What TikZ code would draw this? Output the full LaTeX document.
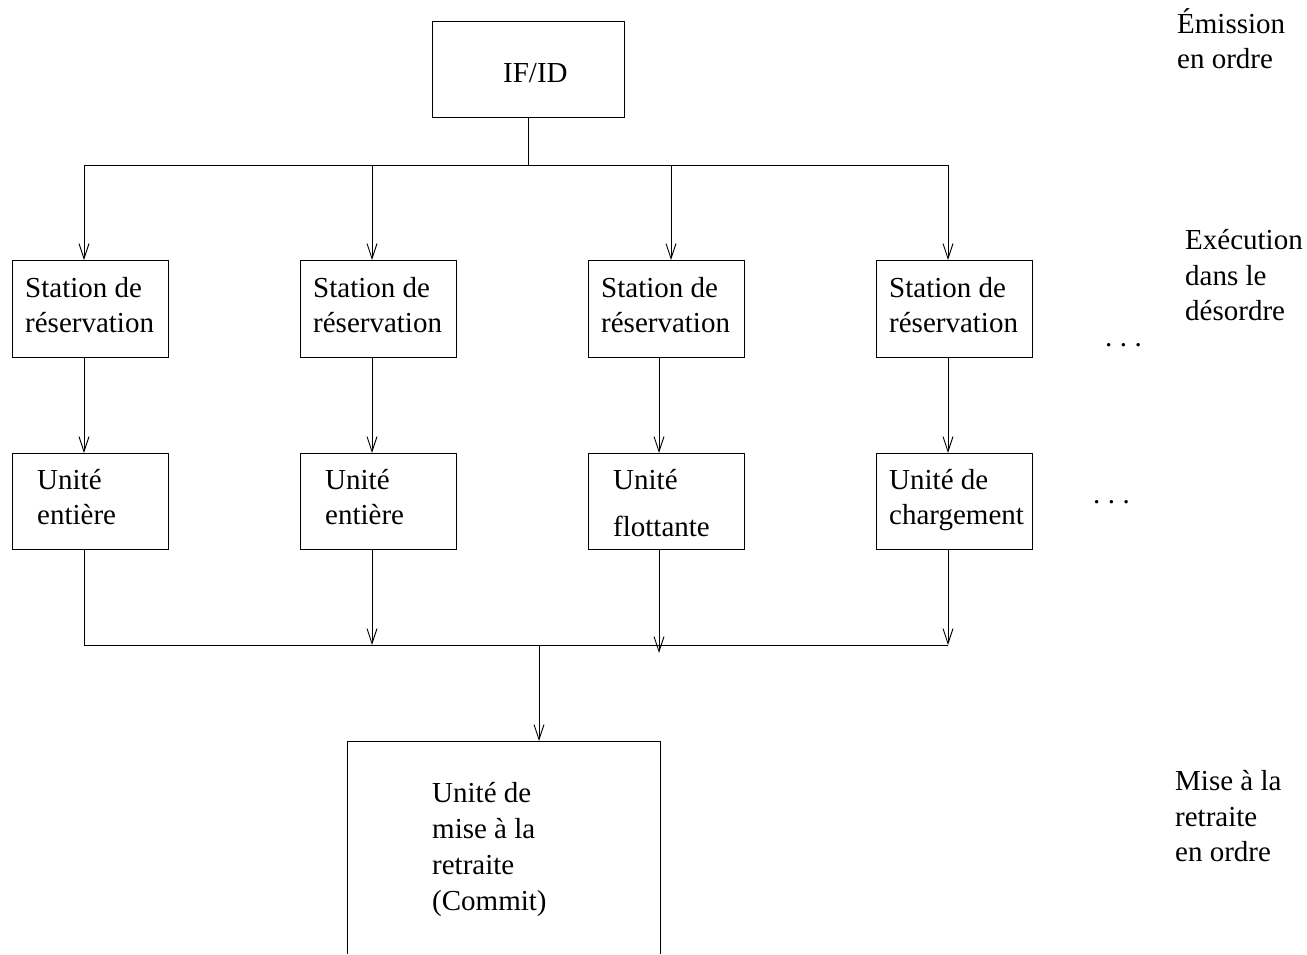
\documentclass[tikz,border=0pt]{standalone}
\usepackage{fontspec}
\setmainfont{Liberation Serif}
\usetikzlibrary{arrows.meta,calc}
\newcommand{\spaceddots}{.\kern7.5pt.\kern7.5pt.}
\begin{document}
\begin{tikzpicture}[x=1pt,y=-1pt,
  box/.style={draw, line width=0.9pt, inner sep=0pt, anchor=north west},
  txt/.style={anchor=base west, inner sep=0pt, font=\fontsize{29}{35}\selectfont},
  wire/.style={line width=0.9pt},
  flow/.style={wire, -{Straight Barb[length=15pt,width=10pt,line width=0.9pt]}}]
\useasboundingbox (0,0) rectangle (1307,954);

% issue stage
\node[box, minimum width=192pt, minimum height=96pt] (ifid) at (432,21) {};
\node[txt] (ifidt) at (503,82) {IF/ID};

% reservation stations
\foreach \i/\x in {1/12,2/300,3/588,4/876}{
  \node[box, minimum width=156pt, minimum height=97pt] (s\i) at (\x,260) {};
}
\foreach \i/\x in {1/25,2/313,3/601,4/889}{
  \node[txt] (st\i a) at (\x,297) {Station de};
  \node[txt] (st\i b) at (\x,332) {réservation};
}

% functional units
\foreach \i/\x in {1/12,2/300,3/588,4/876}{
  \node[box, minimum width=156pt, minimum height=96pt] (u\i) at (\x,453) {};
}
\node[txt] (ut1a) at (37,489) {Unité};
\node[txt] (ut1b) at (37,524) {entière};
\node[txt] (ut2a) at (325,489) {Unité};
\node[txt] (ut2b) at (325,524) {entière};
\node[txt] (ut3a) at (613,489) {Unité};
\node[txt] (ut3b) at (613,536) {flottante};
\node[txt] (ut4a) at (889,489) {Unité de};
\node[txt] (ut4b) at (889,524) {chargement};

% commit unit (open at the bottom)
\node[inner sep=0pt, minimum width=313pt, minimum height=213pt, anchor=north west] (commit) at (347,741) {};
\draw[wire] (commit.south west) |- (commit.north east) -- (commit.south east);
\node[txt] (ct1) at (432,802) {Unité de};
\node[txt] (ct2) at (432,838) {mise à la};
\node[txt] (ct3) at (432,874) {retraite};
\node[txt] (ct4) at (432,910) {(Commit)};

% stage labels
\node[txt] (l1a) at (1177,33) {Émission};
\node[txt] (l1b) at (1177,68) {en ordre};
\node[txt] (l2a) at (1185,249) {Exécution};
\node[txt] (l2b) at (1185,285) {dans le};
\node[txt] (l2c) at (1185,320) {désordre};
\node[txt] (l3a) at (1175,790) {Mise à la};
\node[txt] (l3b) at (1175,826) {retraite};
\node[txt] (l3c) at (1175,861) {en ordre};
\node[txt] (dots1) at (1105,346) {\spaceddots};
\node[txt] (dots2) at (1093,503) {\spaceddots};

% dispatch bus
\coordinate (t1) at (84,165);
\coordinate (t2) at (372,165);
\coordinate (t3) at (671,165);
\coordinate (t4) at (948,165);
\draw[wire] (ifid.south) -- (ifid.south |- t1);
\draw[wire] (t1) -- (t4);
\foreach \i in {1,2,3,4}{
  \draw[flow] (t\i) -- (t\i |- s\i.north);
}

% station to unit
\coordinate (m1) at (84,0);
\coordinate (m2) at (372,0);
\coordinate (m3) at (659,0);
\coordinate (m4) at (948,0);
\foreach \i in {1,2,3,4}{
  \draw[flow] (s\i.south -| m\i) -- (u\i.north -| m\i);
}

% result bus
\coordinate (d1) at (84,645);
\coordinate (d2) at (372,645);
\coordinate (d3) at (659,645);
\coordinate (d4) at (948,645);
\coordinate (dc) at (539,645);
\draw[wire] (u1.south -| d1) -- (d1);
\draw[flow] (u2.south -| d2) -- (d2);
\draw[flow] (u3.south -| d3) -- ($(d3)+(0,8)$);
\draw[flow] (u4.south -| d4) -- (d4);
\draw[wire] (d1) -- (d4);
\draw[flow] (dc) -- (dc |- commit.north);
\end{tikzpicture}
\end{document}
